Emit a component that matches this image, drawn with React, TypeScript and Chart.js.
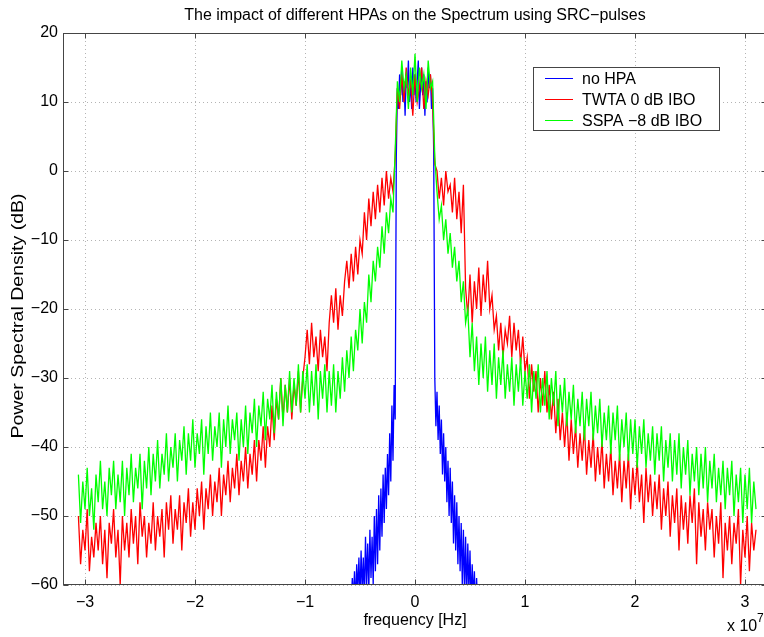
import { useEffect, useRef } from 'react';
import { Chart, registerables } from 'chart.js';

Chart.register(...registerables);

// frequency grid (x 10^7 Hz) shared by the TWTA and SSPA traces
const FREQ = [
  -3.06, -3.04, -3.02, -3.0, -2.98, -2.96, -2.94, -2.92, -2.9, -2.88,
  -2.86, -2.84, -2.82, -2.8, -2.78, -2.76, -2.74, -2.72, -2.7, -2.68,
  -2.66, -2.64, -2.62, -2.6, -2.58, -2.56, -2.54, -2.52, -2.5, -2.48,
  -2.46, -2.44, -2.42, -2.4, -2.38, -2.36, -2.34, -2.32, -2.3, -2.28,
  -2.26, -2.24, -2.22, -2.2, -2.18, -2.16, -2.14, -2.12, -2.1, -2.08,
  -2.06, -2.04, -2.02, -2.0, -1.98, -1.96, -1.94, -1.92, -1.9, -1.88,
  -1.86, -1.84, -1.82, -1.8, -1.78, -1.76, -1.74, -1.72, -1.7, -1.68,
  -1.66, -1.64, -1.62, -1.6, -1.58, -1.56, -1.54, -1.52, -1.5, -1.48,
  -1.46, -1.44, -1.42, -1.4, -1.38, -1.36, -1.34, -1.32, -1.3, -1.28,
  -1.26, -1.24, -1.22, -1.2, -1.18, -1.16, -1.14, -1.12, -1.1, -1.08,
  -1.06, -1.04, -1.02, -1.0, -0.98, -0.96, -0.94, -0.92, -0.9, -0.88,
  -0.86, -0.84, -0.82, -0.8, -0.78, -0.76, -0.74, -0.72, -0.7, -0.68,
  -0.66, -0.64, -0.62, -0.6, -0.58, -0.56, -0.54, -0.52, -0.5, -0.48,
  -0.46, -0.44, -0.42, -0.4, -0.38, -0.36, -0.34, -0.32, -0.3, -0.28,
  -0.26, -0.24, -0.22, -0.2,
  -0.18, -0.16, -0.14, -0.12, -0.1, -0.08, -0.06, -0.04, -0.02, 0,
  0.02, 0.04, 0.06, 0.08, 0.1, 0.12, 0.14, 0.16, 0.18,
  0.2, 0.22, 0.24, 0.26, 0.28, 0.3, 0.32, 0.34, 0.36, 0.38,
  0.4, 0.42, 0.44, 0.46, 0.48, 0.5, 0.52, 0.54, 0.56, 0.58,
  0.6, 0.62, 0.64, 0.66, 0.68, 0.7, 0.72, 0.74, 0.76, 0.78,
  0.8, 0.82, 0.84, 0.86, 0.88, 0.9, 0.92, 0.94, 0.96, 0.98,
  1.0, 1.02, 1.04, 1.06, 1.08, 1.1, 1.12, 1.14, 1.16, 1.18,
  1.2, 1.22, 1.24, 1.26, 1.28, 1.3, 1.32, 1.34, 1.36, 1.38,
  1.4, 1.42, 1.44, 1.46, 1.48, 1.5, 1.52, 1.54, 1.56, 1.58,
  1.6, 1.62, 1.64, 1.66, 1.68, 1.7, 1.72, 1.74, 1.76, 1.78,
  1.8, 1.82, 1.84, 1.86, 1.88, 1.9, 1.92, 1.94, 1.96, 1.98,
  2.0, 2.02, 2.04, 2.06, 2.08, 2.1, 2.12, 2.14, 2.16, 2.18,
  2.2, 2.22, 2.24, 2.26, 2.28, 2.3, 2.32, 2.34, 2.36, 2.38,
  2.4, 2.42, 2.44, 2.46, 2.48, 2.5, 2.52, 2.54, 2.56, 2.58,
  2.6, 2.62, 2.64, 2.66, 2.68, 2.7, 2.72, 2.74, 2.76, 2.78,
  2.8, 2.82, 2.84, 2.86, 2.88, 2.9, 2.92, 2.94, 2.96, 2.98,
  3.0, 3.02, 3.04, 3.06, 3.08, 3.1,
];

// TWTA 0 dB IBO (dB)
const TWTA = [
  -50, -57, -52, -55, -49, -58, -53, -56, -51, -55,
  -50, -57, -52, -59, -51, -54, -49, -56, -52, -60,
  -50, -55, -51, -56, -49, -54, -50, -57, -48, -53,
  -50, -56, -51, -54, -48, -55, -50, -53, -49, -56,
  -48, -52, -47, -54, -49, -52, -47, -55, -48, -51,
  -46, -53, -48, -52, -46, -50, -45, -52, -46, -49,
  -44, -50, -45, -48, -43, -50, -44, -47, -42, -48,
  -43, -46, -41, -47, -42, -45, -40, -46, -41, -44,
  -39, -45, -39, -42, -37, -43, -37, -40, -34, -39,
  -33, -36, -30, -36, -31, -35, -30, -36, -31, -34,
  -29, -35, -30, -27, -23, -28, -22, -27, -24, -29,
  -23, -27, -24, -29, -22, -18, -22, -17, -23, -18,
  -21, -16, -13, -17, -12, -16, -11, -15, -10, -12,
  -6, -10, -4, -8, -3, -7, -2, -6, -1, -5,
  0, -4, -1, -3,
  2, 12, 9, 14, 10, 15, 11, 13, 8, 14,
  10, 12, 15, 9, 13, 11, 14, 10, 1,
  0, -4, -1, -5, 0, -3, -2, -6, -1, -7,
  -3, -9, -2, -17, -21, -15, -22, -16, -20, -14,
  -21, -15, -19, -13, -20, -18, -23, -21, -26, -22,
  -27, -23, -25, -21, -27, -22, -26, -23, -28, -24,
  -29, -27, -33, -28, -32, -29, -35, -30, -34, -29,
  -35, -31, -36, -32, -38, -33, -39, -35, -40, -35,
  -42, -36, -41, -37, -43, -38, -42, -37, -44, -39,
  -43, -38, -45, -40, -44, -39, -46, -41, -45, -40,
  -47, -42, -46, -41, -48, -42, -46, -41, -49, -43,
  -47, -42, -48, -44, -51, -43, -48, -44, -50, -45,
  -49, -44, -52, -46, -50, -45, -53, -47, -51, -46,
  -55, -47, -52, -48, -54, -47, -51, -46, -57, -48,
  -53, -49, -55, -48, -52, -49, -56, -50, -54, -48,
  -59, -51, -55, -50, -57, -51, -54, -49, -60, -52,
  -56, -50, -58, -51, -55, -52,
];

// SSPA -8 dB IBO (dB)
const SSPA = [
  -44, -51, -45, -49, -43, -50, -46, -52, -44, -48,
  -42, -49, -45, -50, -43, -47, -42, -49, -44, -48,
  -42, -50, -43, -47, -41, -48, -43, -46, -41, -49,
  -42, -46, -40, -47, -41, -45, -39, -46, -41, -44,
  -38, -45, -40, -43, -38, -45, -39, -42, -37, -44,
  -38, -42, -36, -43, -38, -41, -36, -44, -37, -41,
  -35, -42, -37, -40, -35, -43, -36, -40, -34, -41,
  -36, -39, -35, -42, -36, -40, -34, -41, -35, -38,
  -33, -40, -34, -37, -32, -39, -33, -36, -31, -38,
  -32, -36, -30, -37, -31, -35, -29, -35, -30, -34,
  -28, -35, -29, -33, -28, -35, -29, -34, -28, -36,
  -29, -33, -28, -35, -29, -34, -28, -35, -29, -33,
  -27, -32, -26, -30, -24, -29, -23, -26, -20, -25,
  -19, -22, -15, -19, -13, -16, -11, -14, -8, -12,
  -6, -9, -4, -6,
  3, 13, 10, 16, 12, 14, 9, 15, 11, 17,
  10, 15, 12, 14, 9, 16, 12, 13, 2,
  -3, -7, -5, -10, -7, -12, -9, -14, -11, -16,
  -13, -19, -16, -22, -20, -27, -22, -29, -24, -31,
  -25, -30, -24, -32, -26, -31, -25, -33, -27, -31,
  -26, -33, -28, -32, -27, -34, -28, -32, -27, -34,
  -29, -33, -28, -35, -29, -33, -28, -35, -30, -34,
  -29, -36, -30, -34, -29, -37, -31, -35, -30, -37,
  -32, -36, -31, -38, -33, -37, -32, -39, -33, -37,
  -32, -39, -34, -38, -33, -40, -35, -39, -34, -41,
  -35, -39, -34, -42, -36, -40, -35, -42, -36, -41,
  -36, -43, -37, -41, -36, -43, -38, -42, -37, -44,
  -38, -42, -37, -45, -39, -43, -38, -45, -39, -44,
  -38, -46, -40, -44, -39, -47, -41, -45, -40, -47,
  -41, -46, -40, -48, -42, -46, -41, -48, -43, -47,
  -42, -49, -43, -47, -42, -50, -44, -48, -43, -51,
  -44, -49, -43, -51, -45, -49,
];

// no HPA trace on its own finer grid (x 10^7 Hz)
const FREQ_NOHPA = [
  -0.6, -0.59, -0.58, -0.57, -0.56, -0.55, -0.54, -0.53, -0.52, -0.51,
  -0.5, -0.49, -0.48, -0.47, -0.46, -0.45, -0.44, -0.43, -0.42, -0.41,
  -0.4, -0.39, -0.38, -0.37, -0.36, -0.35, -0.34, -0.33, -0.32, -0.31,
  -0.3, -0.29, -0.28, -0.27, -0.26, -0.25, -0.24, -0.23, -0.22, -0.21,
  -0.2, -0.19, -0.18, -0.17, -0.16, -0.15, -0.14, -0.13, -0.12, -0.11,
  -0.1, -0.09, -0.08, -0.07, -0.06, -0.05, -0.04, -0.03, -0.02, -0.01,
  0, 0.01, 0.02, 0.03, 0.04, 0.05, 0.06, 0.07, 0.08, 0.09,
  0.1, 0.11, 0.12, 0.13, 0.14, 0.15, 0.16, 0.17, 0.18, 0.19,
  0.2, 0.21, 0.22, 0.23, 0.24, 0.25, 0.26, 0.27, 0.28, 0.29,
  0.3, 0.31, 0.32, 0.33, 0.34, 0.35, 0.36, 0.37, 0.38, 0.39,
  0.4, 0.41, 0.42, 0.43, 0.44, 0.45, 0.46, 0.47, 0.48, 0.49,
  0.5, 0.51, 0.52, 0.53, 0.54, 0.55, 0.56, 0.57, 0.58, 0.59,
  0.6,
];
const NOHPA = [
  -62, -60, -63, -59, -62, -58, -63, -57, -61, -56,
  -62, -55, -61, -56, -62, -53, -60, -54, -61, -52,
  -59, -53, -60, -50, -58, -49, -57, -47, -55, -46,
  -53, -44, -51, -43, -49, -41, -47, -38, -45, -34,
  -42, -31, -36,
  2, 12, 9, 14, 11, 15, 10, 13, 8, 14,
  12, 16, 10, 13, 9, 15, 11, 14, 10, 13,
  16, 9, 12, 15, 11, 14, 8, 13, 10, 15,
  12, 14, 9, 12, 3,
  -30, -37, -32, -39, -34, -41, -36, -44, -38, -45,
  -40, -48, -42, -50, -43, -51, -45, -54, -47, -55,
  -48, -57, -50, -58, -51, -60, -52, -61, -53, -62,
  -54, -61, -55, -63, -57, -62, -58, -64, -59, -63,
  -60, -64, -62,
];

const X_TICKS = [-3, -2, -1, 0, 1, 2, 3];
const Y_TICKS = [-60, -50, -40, -30, -20, -10, 0, 10, 20];
const SERIES_LABELS = ['no HPA', 'TWTA 0 dB IBO', 'SSPA \u22128 dB IBO'];
const SERIES_COLORS = ['#0000ff', '#ff0000', '#00ff00'];
const TITLE = 'The impact of different HPAs on the Spectrum using SRC\u2212pulses';
const X_LABEL = 'frequency [Hz]';
const Y_LABEL = 'Power Spectral Density (dB)';

const FONT = "'Liberation Sans', Arial, Helvetica, sans-serif";

const fmt = (v: number) => (v < 0 ? '\u2212' + Math.abs(v) : String(v));

const decor = {
  id: 'decor',
  beforeDatasetsDraw(chart: any) {
    const { ctx, chartArea: a, scales } = chart;
    ctx.save();
    ctx.strokeStyle = '#b4b4b4';
    ctx.lineWidth = 1;
    ctx.setLineDash([1, 3]);
    X_TICKS.forEach((v) => {
      const x = Math.round(scales.x.getPixelForValue(v)) + 0.5;
      ctx.beginPath();
      ctx.moveTo(x, a.top);
      ctx.lineTo(x, a.bottom);
      ctx.stroke();
    });
    Y_TICKS.forEach((v) => {
      const y = Math.round(scales.y.getPixelForValue(v)) + 0.5;
      ctx.beginPath();
      ctx.moveTo(a.left, y);
      ctx.lineTo(a.right, y);
      ctx.stroke();
    });
    ctx.restore();
  },
  afterDatasetsDraw(chart: any) {
    const { ctx, chartArea: a, scales } = chart;
    ctx.save();
    ctx.strokeStyle = '#454545';
    ctx.lineWidth = 1;
    ctx.setLineDash([]);
    const L = Math.round(a.left) + 0.5;
    const R = Math.round(a.right) - 0.5;
    const T = Math.round(a.top) + 0.5;
    const B = Math.round(a.bottom) - 0.5;
    ctx.strokeRect(L, T, R - L, B - T);
    const tl = 5;
    ctx.beginPath();
    X_TICKS.forEach((v) => {
      const x = Math.round(scales.x.getPixelForValue(v)) + 0.5;
      ctx.moveTo(x, B);
      ctx.lineTo(x, B - tl);
      ctx.moveTo(x, T);
      ctx.lineTo(x, T + tl);
    });
    Y_TICKS.forEach((v) => {
      const y = Math.round(scales.y.getPixelForValue(v)) + 0.5;
      ctx.moveTo(L, y);
      ctx.lineTo(L + tl, y);
      ctx.moveTo(R, y);
      ctx.lineTo(R - tl, y);
    });
    ctx.stroke();

    // legend box
    const lx = 533.5, ly = 67.5, lw = 186, lh = 63;
    ctx.fillStyle = '#ffffff';
    ctx.fillRect(lx, ly, lw, lh);
    ctx.strokeStyle = '#454545';
    ctx.strokeRect(lx, ly, lw, lh);
    ctx.font = `16px ${FONT}`;
    ctx.textAlign = 'left';
    ctx.textBaseline = 'middle';
    SERIES_LABELS.forEach((lab, i) => {
      const y = 78.5 + i * 21;
      ctx.strokeStyle = SERIES_COLORS[i];
      ctx.beginPath();
      ctx.moveTo(545, y);
      ctx.lineTo(573, y);
      ctx.stroke();
      ctx.fillStyle = '#000';
      ctx.fillText(lab, 582, y + 1);
    });

    // title and axis labels
    const cx = (a.left + a.right) / 2;
    ctx.fillStyle = '#000';
    ctx.textAlign = 'center';
    ctx.textBaseline = 'alphabetic';
    ctx.font = `16px ${FONT}`;
    ctx.fillText(TITLE, cx, 20);
    ctx.fillText(X_LABEL, cx, 625);
    ctx.save();
    ctx.translate(23, 316);
    ctx.rotate(-Math.PI / 2);
    ctx.scale(1.22, 1);
    ctx.fillText(Y_LABEL, 0, 0);
    ctx.restore();
    ctx.textAlign = 'left';
    ctx.fillText('x 10', 727, 631);
    ctx.font = `12px ${FONT}`;
    ctx.fillText('7', 757, 622);
    ctx.restore();
  },
};

export default function App() {
  const ref = useRef<HTMLCanvasElement | null>(null);
  useEffect(() => {
    if (!ref.current) return;
    const chart = new Chart(ref.current, {
      type: 'line',
      data: {
        datasets: [
          {
            label: SERIES_LABELS[0],
            data: FREQ_NOHPA.map((f, i) => ({ x: f, y: NOHPA[i] })),
            borderColor: SERIES_COLORS[0],
            order: 3,
          },
          {
            label: SERIES_LABELS[1],
            data: FREQ.map((f, i) => ({ x: f, y: TWTA[i] })),
            borderColor: SERIES_COLORS[1],
            order: 2,
          },
          {
            label: SERIES_LABELS[2],
            data: FREQ.map((f, i) => ({ x: f, y: SSPA[i] })),
            borderColor: SERIES_COLORS[2],
            order: 1,
          },
        ],
      },
      options: {
        animation: false,
        responsive: false,
        maintainAspectRatio: false,
        layout: { padding: { top: 33, left: 0, right: 0, bottom: 0 } },
        elements: {
          point: { radius: 0 },
          line: { borderWidth: 1.3, tension: 0 },
        },
        plugins: {
          legend: { display: false },
          tooltip: { enabled: false },
          title: { display: false },
        },
        scales: {
          x: {
            type: 'linear',
            min: -3.2,
            max: 3.2,
            afterBuildTicks: (s: any) => {
              s.ticks = X_TICKS.map((v) => ({ value: v }));
            },
            afterFit: (s: any) => {
              s.height = 52;
            },
            grid: { display: false, drawTicks: false },
            border: { display: false },
            ticks: {
              padding: 8,
              color: '#000',
              font: { family: FONT, size: 16 },
              maxRotation: 0,
              autoSkip: false,
              callback: (v: any) => fmt(Number(v)),
            },
          },
          y: {
            type: 'linear',
            min: -60,
            max: 20,
            afterBuildTicks: (s: any) => {
              s.ticks = Y_TICKS.map((v) => ({ value: v }));
            },
            afterFit: (s: any) => {
              s.width = 63;
            },
            grid: { display: false, drawTicks: false },
            border: { display: false },
            ticks: {
              padding: 5,
              color: '#000',
              font: { family: FONT, size: 16 },
              autoSkip: false,
              callback: (v: any) => fmt(Number(v)),
            },
          },
        },
      },
      plugins: [decor],
    });
    return () => chart.destroy();
  }, []);
  return (
    <div style={{ position: 'absolute', left: 0, top: 0, width: 764, height: 637, overflow: 'hidden', background: '#fff' }}>
      <canvas ref={ref} width={767} height={637} style={{ display: 'block' }} />
    </div>
  );
}
